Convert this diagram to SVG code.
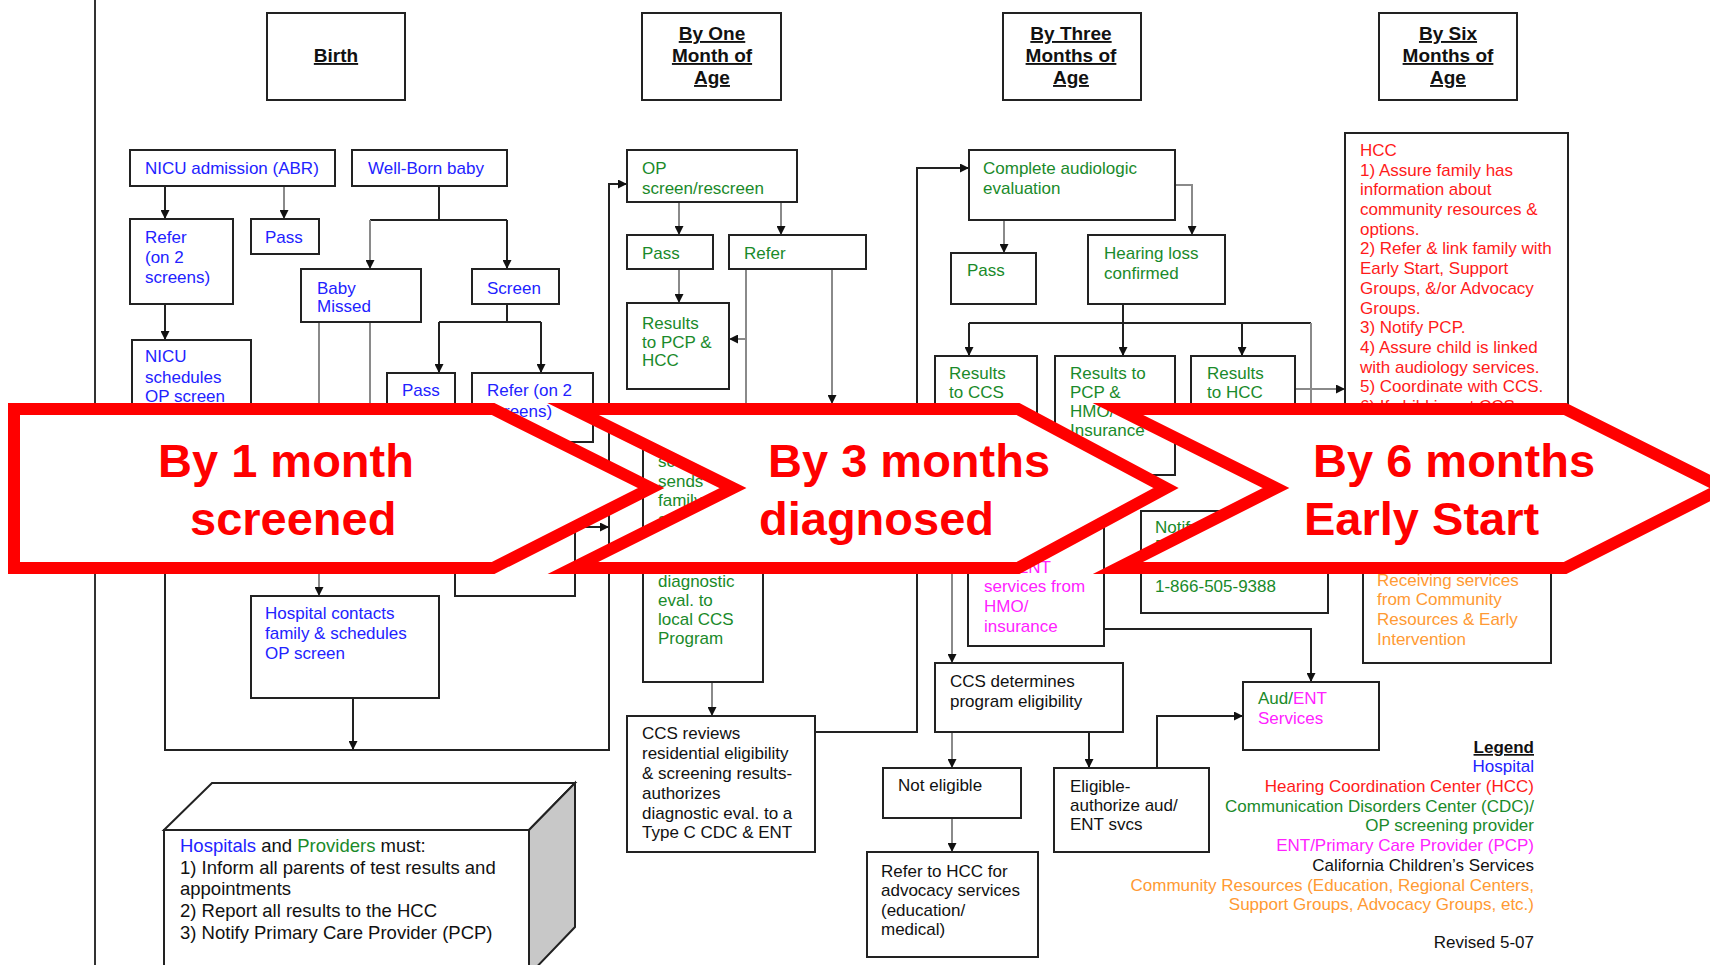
<svg xmlns="http://www.w3.org/2000/svg" width="1710" height="965" viewBox="0 0 1710 965">
<defs>
<marker id="ah" markerWidth="9" markerHeight="9" refX="9" refY="4.5" orient="auto" markerUnits="userSpaceOnUse"><path d="M0,0 L9,4.5 L0,9 Z" fill="#111"/></marker>
</defs>
<style>
text{font-family:"Liberation Sans",Arial,sans-serif;font-size:17px}
.box{fill:#fff;stroke:#222;stroke-width:2}
.ln{fill:none;stroke:#222;stroke-width:2}
.gl{fill:none;stroke:#8a8a8a;stroke-width:2}
.ar{marker-end:url(#ah)}
.hd{font-size:19px;font-weight:bold;text-decoration:underline;text-anchor:middle;fill:#111}
.b{fill:#2222ff}.g{fill:#1a8a2a}.r{fill:#ff1a1a}.m{fill:#ff22ff}.o{fill:#ff9a33}.k{fill:#111}
.band{fill:#fff;stroke:#ff0000;stroke-width:12;stroke-linejoin:miter;stroke-miterlimit:10}
.bt{font-size:47px;font-weight:bold;fill:#ff0000}
.big{font-size:18.5px}
.lg{text-anchor:end}
</style>
<rect width="1710" height="965" fill="#fff"/>
<line x1="95" y1="0" x2="95" y2="965" stroke="#333" stroke-width="2"/>

<g id="connectors">
<path class="ln ar" d="M165,186 V219"/>
<path class="gl ar" d="M284,186 V219"/>
<path class="ln" d="M439,186 V220 M370,220 H507"/>
<path class="gl ar" d="M370,220 V269"/>
<path class="ln ar" d="M507,220 V269"/>
<path class="ln ar" d="M165,304 V340"/>
<path class="ln" d="M507,304 V322 M439,322 H541"/>
<path class="ln ar" d="M439,322 V373"/>
<path class="ln ar" d="M541,322 V373"/>
<path class="gl ar" d="M319,322 V596"/>
<path class="gl" d="M370,322 V450"/>
<path class="ln ar" d="M165,470 V750 H609 V184 H627"/>
<path class="ln ar" d="M353,698 V750"/>
<path class="ln ar" d="M575,527 H609"/>
<path class="gl ar" d="M679,202 V235"/>
<path class="gl ar" d="M781,202 V235"/>
<path class="gl ar" d="M679,269 V303"/>
<path class="gl" d="M746,269 V430"/>
<path class="gl ar" d="M746,339 H729"/>
<path class="gl ar" d="M832,269 V404"/>
<path class="gl ar" d="M712,682 V716"/>
<path class="ln ar" d="M815,732 H917 V168 H969"/>
<path class="gl ar" d="M1004,220 V253"/>
<path class="gl ar" d="M1175,185 H1192 V235"/>
<path class="ln" d="M1123,304 V323 M969,323 H1311"/>
<path class="ln ar" d="M1123,323 V356"/>
<path class="ln ar" d="M969,323 V356"/>
<path class="ln ar" d="M1242,323 V356"/>
<path class="gl" d="M1311,323 V430"/>
<path class="gl ar" d="M1295,389 H1345"/>
<path class="gl ar" d="M952,440 V663"/>
<path class="gl ar" d="M952,732 V768"/>
<path class="ln ar" d="M1089,732 V768"/>
<path class="gl ar" d="M952,818 V852"/>
<path class="ln ar" d="M1157,768 V716 H1243"/>
<path class="ln ar" d="M1104,629 H1311 V682"/>
</g>

<g id="hdr-birth"><rect class="box" x="267" y="13" width="138" height="87"/><text class="hd" x="336" y="62">Birth</text></g>
<g id="hdr-one"><rect class="box" x="642" y="13" width="139" height="87"/><text class="hd"><tspan x="712" y="40">By One</tspan><tspan x="712" y="62">Month of</tspan><tspan x="712" y="84">Age</tspan></text></g>
<g id="hdr-three"><rect class="box" x="1003" y="13" width="138" height="87"/><text class="hd"><tspan x="1071" y="40">By Three</tspan><tspan x="1071" y="62">Months of</tspan><tspan x="1071" y="84">Age</tspan></text></g>
<g id="hdr-six"><rect class="box" x="1379" y="13" width="138" height="87"/><text class="hd"><tspan x="1448" y="40">By Six</tspan><tspan x="1448" y="62">Months of</tspan><tspan x="1448" y="84">Age</tspan></text></g>

<g id="nicu"><rect class="box" x="130" y="150" width="205" height="36"/><text class="b" x="145" y="174">NICU admission (ABR)</text></g>
<g id="wellborn"><rect class="box" x="352" y="150" width="155" height="36"/><text class="b" x="368" y="174">Well-Born baby</text></g>
<g id="refer1"><rect class="box" x="130" y="219" width="103" height="85"/><text class="b"><tspan x="145" y="243">Refer</tspan><tspan x="145" y="263">(on 2</tspan><tspan x="145" y="283">screens)</tspan></text></g>
<g id="pass1"><rect class="box" x="251" y="219" width="68" height="35"/><text class="b" x="265" y="243">Pass</text></g>
<g id="missed"><rect class="box" x="301" y="269" width="120" height="53"/><text class="b"><tspan x="317" y="294">Baby</tspan><tspan x="317" y="312">Missed</tspan></text></g>
<g id="screen"><rect class="box" x="472" y="269" width="87" height="35"/><text class="b" x="487" y="294">Screen</text></g>
<g id="nicusched"><rect class="box" x="132" y="340" width="119" height="130"/><text class="b"><tspan x="145" y="362">NICU</tspan><tspan x="145" y="383">schedules</tspan><tspan x="145" y="402">OP screen</tspan></text></g>
<g id="pass2"><rect class="box" x="387" y="373" width="68" height="57"/><text class="b" x="402" y="396">Pass</text></g>
<g id="refer2"><rect class="box" x="472" y="373" width="121" height="69"/><text class="b"><tspan x="487" y="396">Refer (on 2</tspan><tspan x="487" y="417">screens)</tspan></text></g>
<g id="hidbox"><rect class="box" x="455" y="470" width="120" height="126"/></g>
<g id="hospcontacts"><rect class="box" x="251" y="596" width="188" height="102"/><text class="b"><tspan x="265" y="619">Hospital contacts</tspan><tspan x="265" y="639">family &amp; schedules</tspan><tspan x="265" y="659">OP screen</tspan></text></g>

<g id="opscreen"><rect class="box" x="627" y="150" width="170" height="52"/><text class="g"><tspan x="642" y="174">OP</tspan><tspan x="642" y="194">screen/rescreen</tspan></text></g>
<g id="oppass"><rect class="box" x="627" y="235" width="86" height="34"/><text class="g" x="642" y="259">Pass</text></g>
<g id="oprefer"><rect class="box" x="729" y="235" width="137" height="34"/><text class="g" x="744" y="259">Refer</text></g>
<g id="resultspcp"><rect class="box" x="627" y="303" width="102" height="86"/><text class="g"><tspan x="642" y="329">Results</tspan><tspan x="642" y="348">to PCP &amp;</tspan><tspan x="642" y="366">HCC</tspan></text></g>
<g id="sendsfamily"><rect class="box" x="643" y="420" width="120" height="262"/><text class="g"><tspan x="658" y="467">sc</tspan><tspan x="658" y="487">sends</tspan><tspan x="658" y="506">family</tspan><tspan x="658" y="525">a</tspan><tspan x="658" y="587">diagnostic</tspan><tspan x="658" y="606">eval.  to</tspan><tspan x="658" y="625">local CCS</tspan><tspan x="658" y="644">Program</tspan></text></g>
<g id="ccsreviews"><rect class="box" x="627" y="716" width="188" height="136"/><text class="k"><tspan x="642" y="739">CCS reviews</tspan><tspan x="642" y="759">residential eligibility</tspan><tspan x="642" y="779">&amp; screening results-</tspan><tspan x="642" y="799">authorizes</tspan><tspan x="642" y="819">diagnostic eval. to a</tspan><tspan x="642" y="838">Type C CDC &amp; ENT</tspan></text></g>

<g id="complete"><rect class="box" x="969" y="150" width="206" height="70"/><text class="g"><tspan x="983" y="174">Complete audiologic</tspan><tspan x="983" y="194">evaluation</tspan></text></g>
<g id="pass3"><rect class="box" x="951" y="253" width="85" height="51"/><text class="g" x="967" y="276">Pass</text></g>
<g id="hearingloss"><rect class="box" x="1088" y="235" width="137" height="69"/><text class="g"><tspan x="1104" y="259">Hearing loss</tspan><tspan x="1104" y="279">confirmed</tspan></text></g>
<g id="resccs"><rect class="box" x="935" y="356" width="102" height="84"/><text class="g"><tspan x="949" y="379">Results</tspan><tspan x="949" y="398">to CCS</tspan></text></g>
<g id="respcp"><rect class="box" x="1055" y="356" width="120" height="119"/><text class="g"><tspan x="1070" y="379">Results to</tspan><tspan x="1070" y="398">PCP &amp;</tspan><tspan x="1070" y="417">HMO/</tspan><tspan x="1070" y="436">Insurance</tspan></text></g>
<g id="reshcc"><rect class="box" x="1191" y="356" width="104" height="84"/><text class="g"><tspan x="1207" y="379">Results</tspan><tspan x="1207" y="398">to HCC</tspan></text></g>
<g id="services"><rect class="box" x="968" y="470" width="136" height="176"/><text class="m"><tspan x="1017" y="573">ENT</tspan><tspan x="984" y="592">services from</tspan><tspan x="984" y="612">HMO/</tspan><tspan x="984" y="632">insurance</tspan></text></g>
<g id="notify"><rect class="box" x="1141" y="511" width="187" height="102"/><text class="g"><tspan x="1155" y="533">Notify</tspan><tspan x="1155" y="552">R</tspan><tspan x="1155" y="592">1-866-505-9388</tspan></text></g>
<g id="ccsdet"><rect class="box" x="935" y="663" width="188" height="69"/><text class="k"><tspan x="950" y="687">CCS determines</tspan><tspan x="950" y="707">program eligibility</tspan></text></g>
<g id="noteligible"><rect class="box" x="883" y="768" width="138" height="50"/><text class="k" x="898" y="791">Not eligible</text></g>
<g id="refertohcc"><rect class="box" x="867" y="852" width="171" height="105"/><text class="k"><tspan x="881" y="877">Refer to HCC for</tspan><tspan x="881" y="896">advocacy services</tspan><tspan x="881" y="916">(education/</tspan><tspan x="881" y="935">medical)</tspan></text></g>
<g id="eligible"><rect class="box" x="1054" y="768" width="155" height="84"/><text class="k"><tspan x="1070" y="792">Eligible-</tspan><tspan x="1070" y="811">authorize aud/</tspan><tspan x="1070" y="830">ENT svcs</tspan></text></g>
<g id="audent"><rect class="box" x="1243" y="682" width="136" height="68"/><text x="1258" y="704"><tspan class="g">Aud/</tspan><tspan class="m">ENT</tspan></text><text class="m" x="1258" y="724">Services</text></g>

<g id="hcc"><rect class="box" x="1345" y="133" width="223" height="347"/><text class="r"><tspan x="1360" y="156">HCC</tspan><tspan x="1360" y="176">1) Assure family has</tspan><tspan x="1360" y="195">information about</tspan><tspan x="1360" y="215">community resources &amp;</tspan><tspan x="1360" y="235">options.</tspan><tspan x="1360" y="254">2) Refer &amp; link family with</tspan><tspan x="1360" y="274">Early Start, Support</tspan><tspan x="1360" y="294">Groups, &amp;/or Advocacy</tspan><tspan x="1360" y="314">Groups.</tspan><tspan x="1360" y="333">3) Notify PCP.</tspan><tspan x="1360" y="353">4) Assure child is linked</tspan><tspan x="1360" y="373">with audiology services.</tspan><tspan x="1360" y="392">5) Coordinate with CCS.</tspan><tspan x="1360" y="412">6) If child is not CCS</tspan></text></g>
<g id="community"><rect class="box" x="1363" y="500" width="188" height="163"/><text class="o"><tspan x="1377" y="586">Receiving services</tspan><tspan x="1377" y="605">from Community</tspan><tspan x="1377" y="625">Resources &amp; Early</tspan><tspan x="1377" y="645">Intervention</tspan></text></g>

<g id="legend">
<text class="lg k" x="1534" y="753" font-weight="bold" text-decoration="underline">Legend</text>
<text class="lg b" x="1534" y="772">Hospital</text>
<text class="lg r" x="1534" y="792">Hearing Coordination Center (HCC)</text>
<text class="lg g" x="1534" y="812">Communication Disorders Center (CDC)/</text>
<text class="lg g" x="1534" y="831">OP screening provider</text>
<text class="lg m" x="1534" y="851">ENT/Primary Care Provider (PCP)</text>
<text class="lg k" x="1534" y="871">California Children’s Services</text>
<text class="lg o" x="1534" y="891">Community Resources (Education, Regional Centers,</text>
<text class="lg o" x="1534" y="910">Support Groups, Advocacy Groups, etc.)</text>
<text class="lg k" x="1534" y="948">Revised 5-07</text>
</g>

<g id="mustbox">
<polygon points="164,830 212,783 575,783 529,830" fill="#fff" stroke="#222" stroke-width="2"/>
<polygon points="529,830 575,783 575,927 529,975" fill="#c8c8c8" stroke="#222" stroke-width="2"/>
<rect x="164" y="830" width="365" height="150" fill="#fff" stroke="#222" stroke-width="2"/>
<text class="big"><tspan x="180" y="852" class="b">Hospitals</tspan><tspan class="k"> and </tspan><tspan class="g">Providers</tspan><tspan class="k"> must:</tspan></text>
<text class="big k"><tspan x="180" y="874">1) Inform all parents of test results and</tspan><tspan x="180" y="895">appointments</tspan><tspan x="180" y="917">2) Report all results to the HCC</tspan><tspan x="180" y="939">3) Notify Primary Care Provider (PCP)</tspan></text>
</g>

<g id="band1"><polygon class="band" points="14,409 493,409 651,488 493,568 14,568"/><text class="bt"><tspan x="158" y="477">By 1 month</tspan><tspan x="190" y="535">screened</tspan></text></g>
<g id="band2"><polygon class="band" points="573,409 1018,409 1166,488 1018,568 573,568 733,488"/><text class="bt"><tspan x="768" y="477">By 3 months</tspan><tspan x="759" y="535">diagnosed</tspan></text></g>
<g id="band3"><polygon class="band" points="1118,409 1565,409 1723,488 1565,568 1118,568 1276,488"/><text class="bt"><tspan x="1313" y="477">By 6 months</tspan><tspan x="1304" y="535">Early Start</tspan></text></g>
</svg>
